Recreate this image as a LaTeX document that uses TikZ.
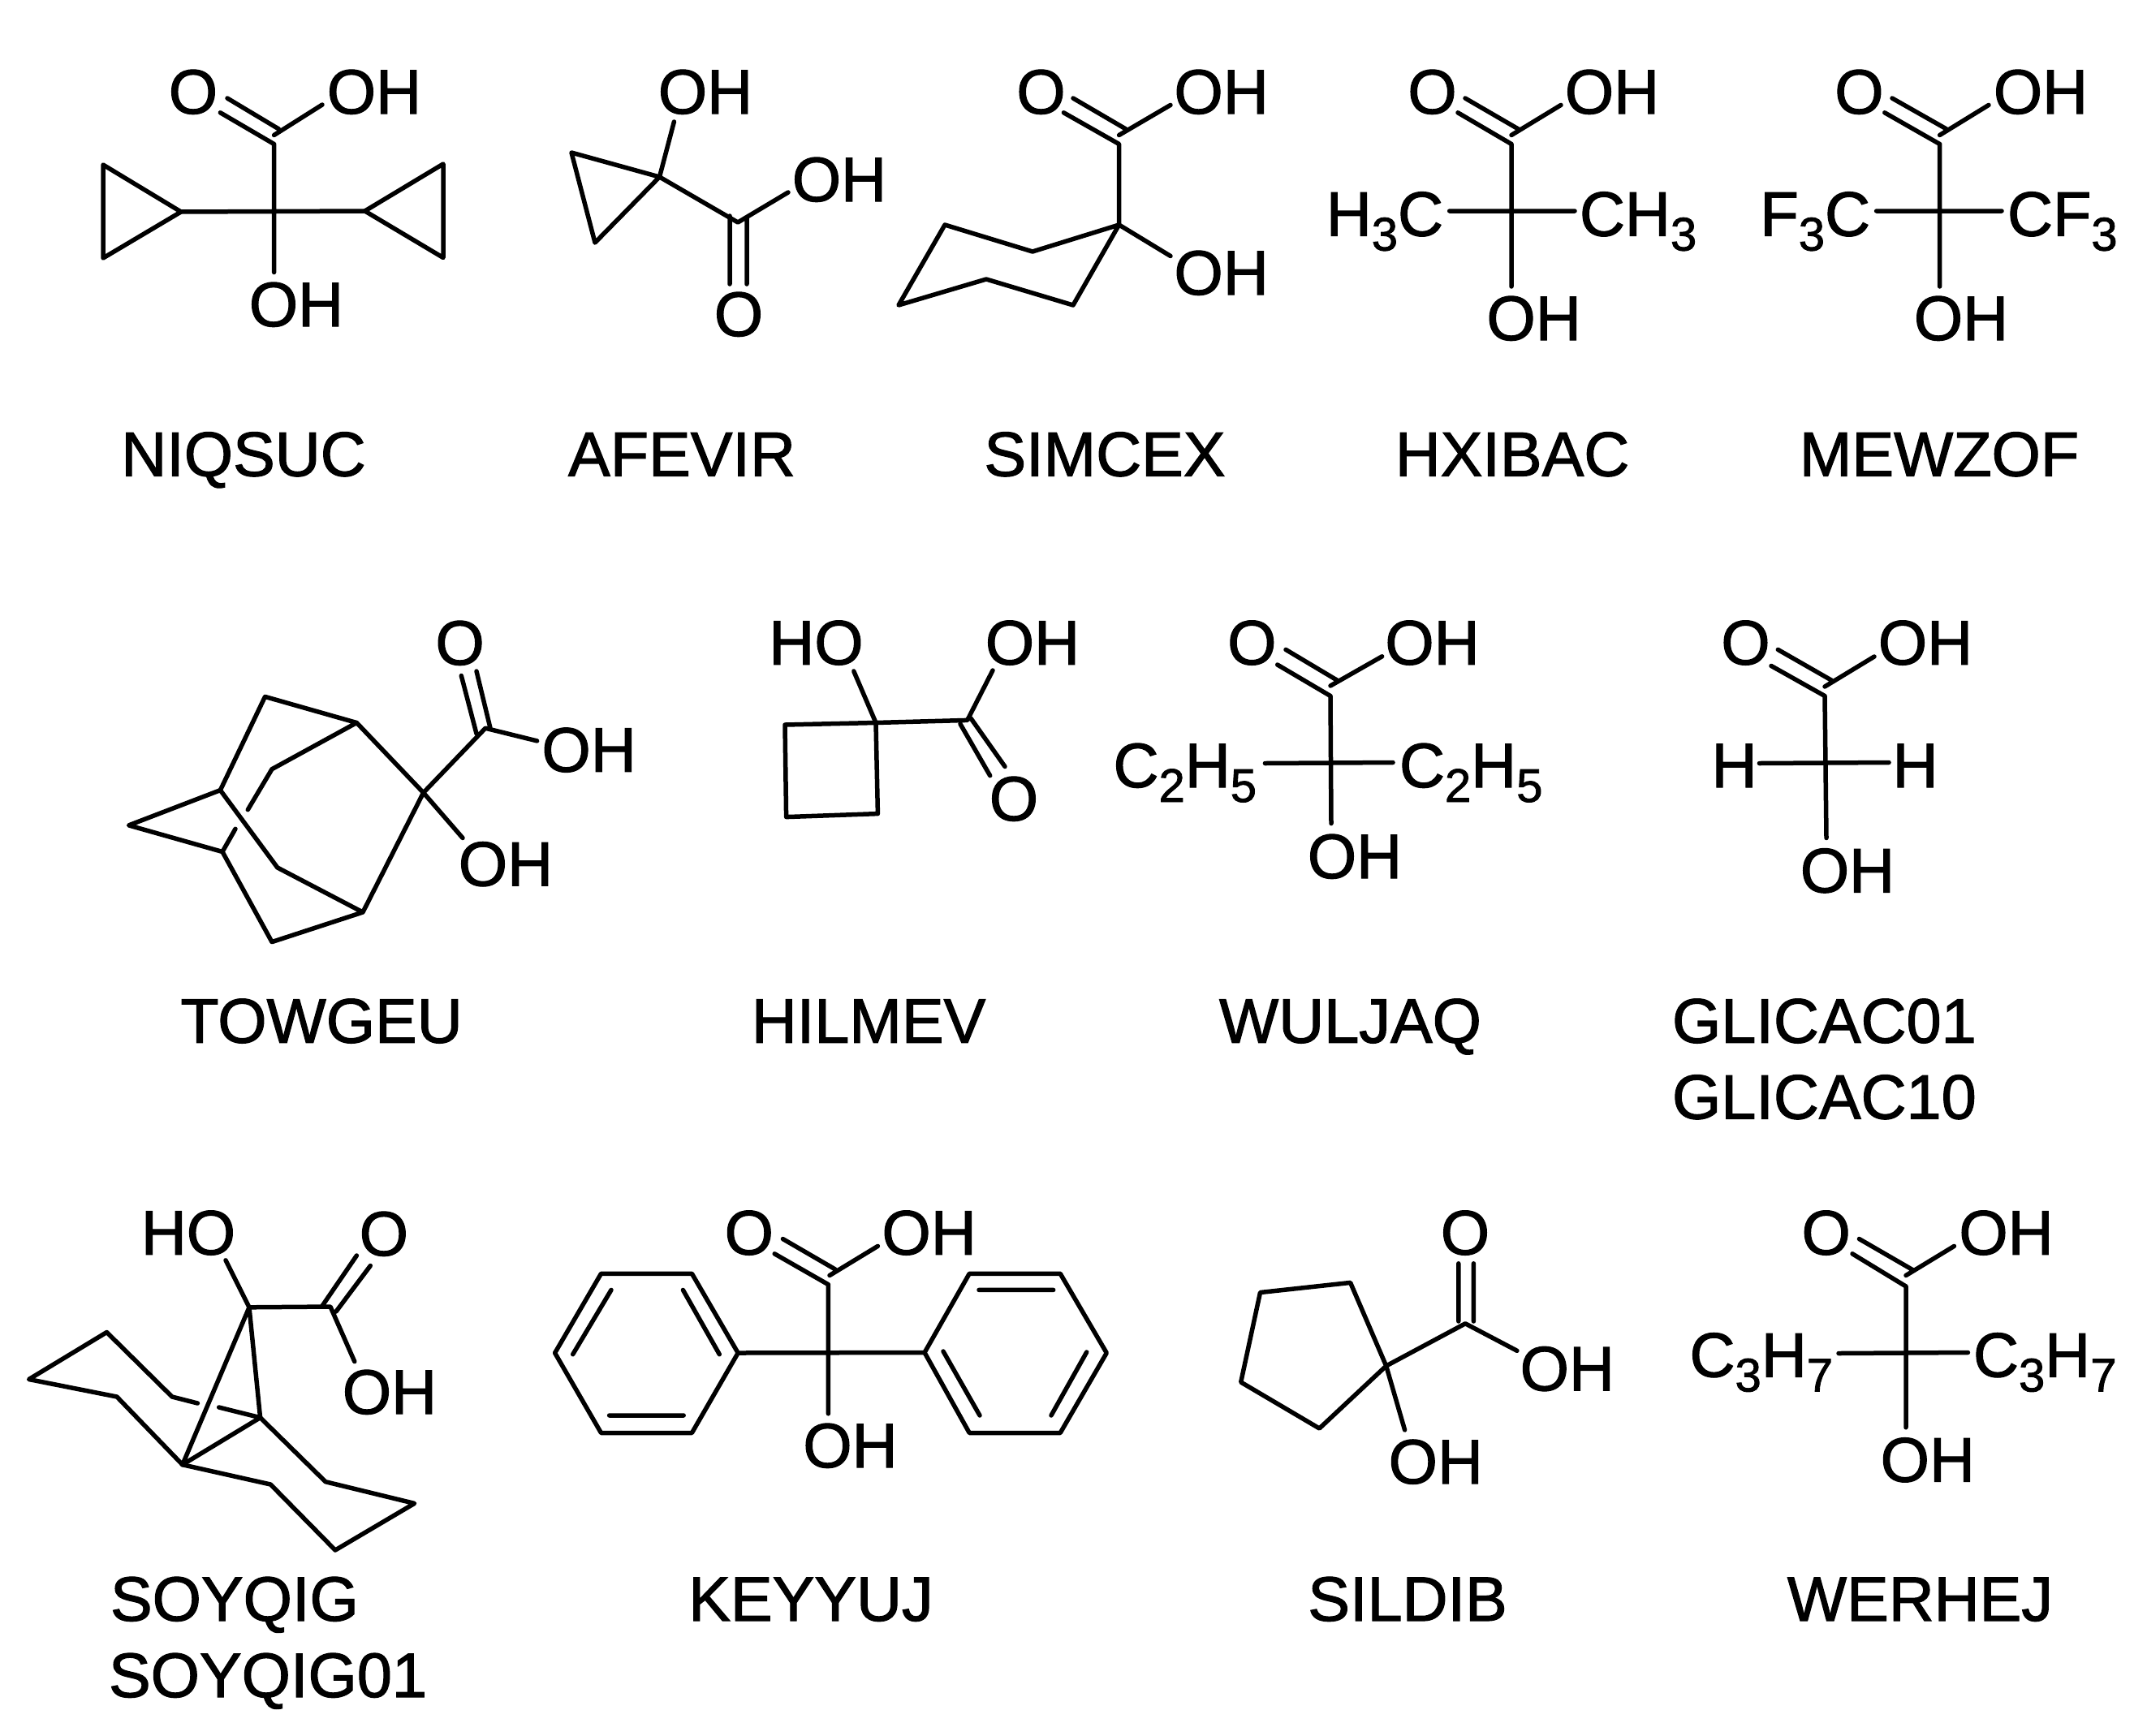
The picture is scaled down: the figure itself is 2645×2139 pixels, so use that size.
\documentclass[tikz,border=0pt]{standalone}
\usepackage{fontspec}
\setmainfont{Liberation Sans}[FakeBold=1.5]
\newcommand{\subsc}[1]{\raisebox{-18pt}{\fontsize{58}{58}\selectfont #1}}
\tikzset{
  bond/.style={line width=5.5pt,line cap=round,line join=round,black},
  lab/.style={inner sep=0pt,outer sep=0pt,anchor=base,text=black,font=\fontsize{77.5}{77.5}\selectfont},
  labw/.style={lab,anchor=base west},
  labe/.style={lab,anchor=base east}
}
\begin{document}
\begin{tikzpicture}[x=1pt,y=-1pt]
\useasboundingbox (0,0) rectangle (2645,2139);
\fill[white] (0,0) rectangle (2645,2139);

% ---------- NIQSUC
\coordinate (a0) at (337.6,261);
\coordinate (a1) at (337.6,177.5);
\coordinate (a2) at (337.6,166.5);
\coordinate (a3) at (337.6,335.5);
\coordinate (a4) at (271.4,138.8);
\coordinate (a5) at (343.5,159);
\coordinate (a6) at (280,121);
\coordinate (a7) at (397,129);
\coordinate (a8) at (223,261);
\coordinate (a9) at (127,203);
\coordinate (a10) at (127,318);
\coordinate (a11) at (449.5,260);
\coordinate (a12) at (546,202);
\coordinate (a13) at (546,317.5);
\draw[bond] (a1)--(a3) (a1)--(a4) (a5)--(a6) (a2)--(a7) (a8)--(a11);
\draw[bond] (a8)--(a9)--(a10)--cycle;
\draw[bond] (a11)--(a12)--(a13)--cycle;
\node[lab] (aO) at (238,140) {O};
\node[lab] (aOH) at (461,140) {OH};
\node[lab] (aOHb) at (365,402) {OH};
\node[lab] (aN) at (300,586.5) {NIQSUC};

% ---------- AFEVIR
\coordinate (b0) at (812.5,218);
\coordinate (b1) at (704,188);
\coordinate (b2) at (733,299);
\coordinate (b3) at (830.4,150);
\coordinate (b4) at (909,274);
\coordinate (b5) at (971,237);
\coordinate (b6) at (899,266);
\coordinate (b7) at (899,350);
\coordinate (b8) at (920,268);
\coordinate (b9) at (920,350);
\draw[bond] (b0)--(b1)--(b2)--cycle;
\draw[bond] (b0)--(b3) (b0)--(b4)--(b5) (b6)--(b7) (b8)--(b9);
\node[lab] (bOHt) at (869,140) {OH};
\node[lab] (bOH) at (1034,248) {OH};
\node[lab] (bO) at (910,414) {O};
\node[lab] (bN) at (840,586.5) {AFEVIR};

% ---------- SIMCEX
\coordinate (c0) at (1378.6,277);
\coordinate (c1) at (1272,310);
\coordinate (c2) at (1164,277);
\coordinate (c3) at (1107,376);
\coordinate (c4) at (1215,344);
\coordinate (c5) at (1322,376);
\coordinate (c6) at (1378.6,177.5);
\coordinate (c7) at (1378.6,166.5);
\coordinate (c8) at (1442,129.4);
\coordinate (c9) at (1310.4,138.8);
\coordinate (c10) at (1387,159);
\coordinate (c11) at (1322,121);
\coordinate (c12) at (1442,315.5);
\draw[bond] (c0)--(c1)--(c2)--(c3)--(c4)--(c5)--cycle;
\draw[bond] (c0)--(c6)--(c9) (c10)--(c11) (c7)--(c8) (c0)--(c12);
\node[lab] (cO) at (1282.5,140) {O};
\node[lab] (cOH) at (1504.6,140) {OH};
\node[lab] (cOHb) at (1504.6,363) {OH};
\node[lab] (cN) at (1361,586.5) {SIMCEX};

% ---------- HXIBAC
\coordinate (d1) at (1862,177.5);
\coordinate (d2) at (1862,166.5);
\coordinate (d3) at (1862,353);
\coordinate (d4) at (1796,138.8);
\coordinate (d5) at (1870.5,159);
\coordinate (d6) at (1805,121);
\coordinate (d7) at (1923,129.4);
\coordinate (d8) at (1785.7,260);
\coordinate (d9) at (1940,260);
\draw[bond] (d1)--(d3) (d1)--(d4) (d5)--(d6) (d2)--(d7) (d8)--(d9);
\node[lab] (dO) at (1764.5,140) {O};
\node[lab] (dOH) at (1986,140) {OH};
\node[lab] (dOHb) at (1889.6,419) {OH};
\node[labe] (dL) at (1778,290.6) {H\subsc{3}C};
\node[labw] (dR) at (1946,290.6) {CH\subsc{3}};
\node[lab] (dN) at (1863,586.5) {HXIBAC};

% ---------- MEWZOF
\coordinate (e1) at (2389.6,177.5);
\coordinate (e2) at (2389.6,166.5);
\coordinate (e3) at (2389.6,353);
\coordinate (e4) at (2321.8,138.8);
\coordinate (e5) at (2398,159);
\coordinate (e6) at (2331,121);
\coordinate (e7) at (2450,129.4);
\coordinate (e8) at (2311.6,260);
\coordinate (e9) at (2466,260);
\draw[bond] (e1)--(e3) (e1)--(e4) (e5)--(e6) (e2)--(e7) (e8)--(e9);
\node[lab] (eO) at (2290.4,140) {O};
\node[lab] (eOH) at (2514,140) {OH};
\node[lab] (eOHb) at (2416,419) {OH};
\node[labe] (eL) at (2304,290.6) {F\subsc{3}C};
\node[labw] (eR) at (2473,290.6) {CF\subsc{3}};
\node[lab] (eN) at (2389,586.5) {MEWZOF};

% ---------- TOWGEU
\coordinate (fA) at (326.5,858.4);
\coordinate (fB) at (439.4,890.5);
\coordinate (fC) at (271.4,973.6);
\coordinate (fD) at (335,947.7);
\coordinate (fDe) at (305.3,997.7);
\coordinate (fE) at (521.6,976.7);
\coordinate (fF) at (158.6,1016.9);
\coordinate (fG) at (274,1049.5);
\coordinate (fGe) at (290,1021.3);
\coordinate (fH) at (341.8,1069);
\coordinate (fI) at (447,1124);
\coordinate (fJ) at (335,1160.6);
\coordinate (fK) at (598,897.2);
\coordinate (fL) at (661.6,912.9);
\coordinate (fM) at (570,1032.5);
\coordinate (fN1) at (587,904);
\coordinate (fN2) at (568.3,832.5);
\coordinate (fN3) at (604,897);
\coordinate (fN4) at (587,827);
\draw[bond] (fC)--(fA)--(fB)--(fD)--(fDe);
\draw[bond] (fB)--(fE)--(fI)--(fJ)--(fG)--(fF)--(fC)--(fH)--(fI);
\draw[bond] (fG)--(fGe) (fE)--(fK)--(fL) (fE)--(fM) (fN1)--(fN2) (fN3)--(fN4);
\node[lab] (fO) at (566.6,819) {O};
\node[lab] (fOH) at (725.6,950.8) {OH};
\node[lab] (fOHb) at (623,1091.4) {OH};
\node[lab] (fName) at (396,1284.7) {TOWGEU};

% ---------- HILMEV
\coordinate (g1) at (967,893);
\coordinate (g2) at (1079,890.5);
\coordinate (g3) at (1081.4,1002.6);
\coordinate (g4) at (968.6,1006.6);
\coordinate (g5) at (1191.7,887.4);
\coordinate (g6) at (1223,826);
\coordinate (g7) at (1051.8,827);
\coordinate (g8) at (1183,892);
\coordinate (g9) at (1219.7,955.7);
\coordinate (g10) at (1196,885);
\coordinate (g11) at (1238,944.5);
\draw[bond] (g1)--(g2)--(g3)--(g4)--cycle;
\draw[bond] (g2)--(g5)--(g6) (g2)--(g7) (g8)--(g9) (g10)--(g11);
\node[lab] (gHO) at (1005.5,818.7) {HO};
\node[lab] (gOH) at (1272,818.7) {OH};
\node[lab] (gO) at (1249,1011) {O};
\node[lab] (gN) at (1070,1284.7) {HILMEV};

% ---------- WULJAQ
\coordinate (h1) at (1639,857.5);
\coordinate (h2) at (1639,845);
\coordinate (h3) at (1640,1014.6);
\coordinate (h4) at (1573.7,819);
\coordinate (h5) at (1647.5,838.3);
\coordinate (h6) at (1584,800.4);
\coordinate (h7) at (1702.6,808.8);
\coordinate (h8) at (1558.4,940.5);
\coordinate (h9) at (1716,939.5);
\draw[bond] (h1)--(h3) (h1)--(h4) (h5)--(h6) (h2)--(h7) (h8)--(h9);
\node[lab] (hO) at (1542.3,818.7) {O};
\node[lab] (hOH) at (1764.5,818.7) {OH};
\node[lab] (hOHb) at (1669,1082) {OH};
\node[labe] (hL) at (1548,970) {C\subsc{2}H\subsc{5}};
\node[labw] (hR) at (1724,970) {C\subsc{2}H\subsc{5}};
\node[lab] (hN) at (1663.5,1284.7) {WULJAQ};

% ---------- GLICAC
\coordinate (i1) at (2248,857.5);
\coordinate (i2) at (2248,846);
\coordinate (i3) at (2250,1032.5);
\coordinate (i4) at (2182,820.4);
\coordinate (i5) at (2256.5,838.3);
\coordinate (i6) at (2190.3,800.4);
\coordinate (i7) at (2309,809);
\coordinate (i8) at (2167.4,940.5);
\coordinate (i9) at (2327,939.5);
\draw[bond] (i1)--(i3) (i1)--(i4) (i5)--(i6) (i2)--(i7) (i8)--(i9);
\node[lab] (iO) at (2150.5,818.7) {O};
\node[lab] (iOH) at (2372,818.7) {OH};
\node[lab] (iHl) at (2136.5,970) {H};
\node[lab] (iHr) at (2359.5,970) {H};
\node[lab] (iOHb) at (2276,1099.5) {OH};
\node[labw] (iN1) at (2060,1284.7) {GLICAC01};
\node[labw] (iN2) at (2060,1378.5) {GLICAC10};

% ---------- SOYQIG
\coordinate (jP) at (307,1610.8);
\coordinate (jQ) at (407,1610);
\coordinate (jHO) at (278,1552.8);
\coordinate (jOH) at (436.8,1677.6);
\coordinate (jD1) at (397,1609);
\coordinate (jD2) at (439.4,1547);
\coordinate (jD3) at (414,1616);
\coordinate (jD4) at (456.3,1559.5);
\coordinate (jR) at (320.6,1746.7);
\coordinate (jS) at (224.8,1804.7);
\coordinate (jT) at (131.5,1641.5);
\coordinate (jU) at (35.6,1699.5);
\coordinate (jV) at (144,1721);
\coordinate (jW) at (212,1721);
\coordinate (jWe) at (243.4,1729);
\coordinate (jRe) at (269.7,1734);
\coordinate (jX) at (333.3,1829);
\coordinate (jY) at (413,1910);
\coordinate (jZ) at (510.6,1852.4);
\coordinate (jA) at (401,1825.7);
\draw[bond] (jHO)--(jP)--(jQ)--(jOH) (jD1)--(jD2) (jD3)--(jD4);
\draw[bond] (jP)--(jS) (jP)--(jR)--(jS);
\draw[bond] (jWe)--(jW)--(jT)--(jU)--(jV)--(jS)--(jX)--(jY)--(jZ)--(jA)--(jR)--(jRe);
\node[lab] (jHOl) at (232,1545.7) {HO};
\node[lab] (jO) at (472.9,1547) {O};
\node[lab] (jOHl) at (480,1742) {OH};
\node[labw] (jN1) at (136,1997) {SOYQIG};
\node[labw] (jN2) at (134,2091) {SOYQIG01};

% ---------- KEYYUJ
\coordinate (k1) at (1020.4,1582.7);
\coordinate (k2) at (1022,1571.5);
\coordinate (k3) at (1020.4,1741.8);
\coordinate (k4) at (954.2,1544.8);
\coordinate (k5) at (1029,1564);
\coordinate (k6) at (964.4,1526.5);
\coordinate (k7) at (1081.4,1535.4);
\coordinate (l1) at (740.5,1569.3);
\coordinate (l2) at (852.4,1569.3);
\coordinate (l3) at (909.2,1667);
\coordinate (l4) at (852.4,1765.5);
\coordinate (l5) at (740.5,1765.5);
\coordinate (l6) at (683.6,1667);
\coordinate (l7) at (753,1589.4);
\coordinate (l8) at (705.7,1668.7);
\coordinate (l9) at (841.4,1589.4);
\coordinate (l10) at (886.3,1668.7);
\coordinate (l11) at (750.6,1744);
\coordinate (l12) at (842.2,1744);
\coordinate (m1) at (1139,1666.5);
\coordinate (m2) at (1194.2,1569.3);
\coordinate (m3) at (1306.2,1569.3);
\coordinate (m4) at (1363.3,1667);
\coordinate (m5) at (1306.2,1765.5);
\coordinate (m6) at (1194.2,1765.5);
\coordinate (m7) at (1206,1589.4);
\coordinate (m8) at (1297.7,1589.4);
\coordinate (m9) at (1162,1665);
\coordinate (m10) at (1207,1744);
\coordinate (m11) at (1338.7,1666);
\coordinate (m12) at (1295,1744);
\draw[bond] (k1)--(k3) (k1)--(k4) (k5)--(k6) (k2)--(k7) (l3)--(m1);
\draw[bond] (l1)--(l2)--(l3)--(l4)--(l5)--(l6)--cycle;
\draw[bond] (l7)--(l8) (l9)--(l10) (l11)--(l12);
\draw[bond] (m1)--(m2)--(m3)--(m4)--(m5)--(m6)--cycle;
\draw[bond] (m7)--(m8) (m9)--(m10) (m11)--(m12);
\node[lab] (kO) at (922.8,1545.7) {O};
\node[lab] (kOH) at (1144.6,1545.7) {OH};
\node[lab] (kOHb) at (1047.5,1808) {OH};
\node[lab] (kN) at (999,1997) {KEYYUJ};

% ---------- SILDIB
\coordinate (n1) at (1707.7,1683);
\coordinate (n2) at (1663.6,1580.4);
\coordinate (n3) at (1552.5,1592.5);
\coordinate (n4) at (1528.7,1703);
\coordinate (n5) at (1625.4,1760);
\coordinate (n6) at (1805.2,1630.8);
\coordinate (n7) at (1868.9,1664.3);
\coordinate (n8) at (1730.6,1761.9);
\coordinate (n9) at (1796.8,1628);
\coordinate (n10) at (1796.8,1556.8);
\coordinate (n11) at (1815.4,1628);
\coordinate (n12) at (1815.4,1556.8);
\draw[bond] (n1)--(n2)--(n3)--(n4)--(n5)--cycle;
\draw[bond] (n1)--(n6)--(n7) (n1)--(n8) (n9)--(n10) (n11)--(n12);
\node[lab] (nO) at (1805,1545.7) {O};
\node[lab] (nOH) at (1930.8,1713.3) {OH};
\node[lab] (nOHb) at (1768.8,1827.9) {OH};
\node[lab] (nN) at (1734,1997) {SILDIB};

% ---------- WERHEJ
\coordinate (o1) at (2348,1585);
\coordinate (o2) at (2348,1571.5);
\coordinate (o3) at (2348,1758.8);
\coordinate (o4) at (2282,1544.8);
\coordinate (o5) at (2356.6,1564.8);
\coordinate (o6) at (2290.4,1526.5);
\coordinate (o7) at (2407.4,1535.4);
\coordinate (o8) at (2265,1667.5);
\coordinate (o9) at (2424.4,1666.5);
\draw[bond] (o1)--(o3) (o1)--(o4) (o5)--(o6) (o2)--(o7) (o8)--(o9);
\node[lab] (oO) at (2249.7,1545.7) {O};
\node[lab] (oOH) at (2471.5,1545.7) {OH};
\node[lab] (oOHb) at (2374.8,1825.6) {OH};
\node[labe] (oL) at (2258,1696.4) {C\subsc{3}H\subsc{7}};
\node[labw] (oR) at (2431,1696.4) {C\subsc{3}H\subsc{7}};
\node[lab] (oN) at (2365.5,1997) {WERHEJ};
\end{tikzpicture}
\end{document}
